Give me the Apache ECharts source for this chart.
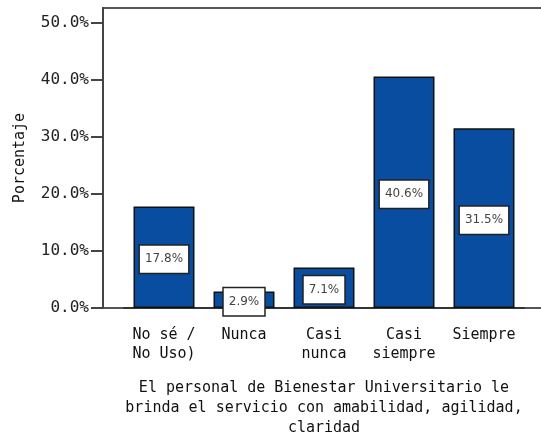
<!DOCTYPE html>
<html>
<head>
<meta charset="utf-8">
<script src="https://cdn.jsdelivr.net/npm/echarts@6/dist/echarts.min.js"></script>
<style>
  html, body { margin: 0; padding: 0; background: #fff; }
  #chart { width: 541px; height: 437px; }
</style>
</head>
<body>
<div id="chart"></div>
<script>
// datos del gráfico
const categorias = ['No sé /\nNo Uso)', 'Nunca', 'Casi\nnunca', 'Casi\nsiempre', 'Siempre'];
const porcentajes = [17.8, 2.9, 7.1, 40.6, 31.5];
const marcasY = [0, 10, 20, 30, 40, 50];
const tituloX = 'El personal de Bienestar Universitario le\nbrinda el servicio con amabilidad, agilidad,\nclaridad';
const tituloY = 'Porcentaje';

const FONT = '"DejaVu Sans Mono", monospace';
const Y_MAX = 52.6;

const chart = echarts.init(document.getElementById('chart'));

chart.setOption({
    animation: false,
    textStyle: { fontFamily: FONT },
    grid: [
        // marco (eje Y + borde superior)
        { left: 103, right: -4, top: 8, bottom: 129, show: true, borderColor: '#555', borderWidth: 2, outerBoundsMode: 'none' },
        // zona de barras
        { left: 124, right: 17, top: 8, bottom: 129, outerBoundsMode: 'none' }
    ],
    xAxis: [
        { gridIndex: 0, type: 'value', min: 0, max: 1, show: false },
        {
            gridIndex: 1, type: 'category', data: categorias,
            axisLine: { lineStyle: { color: '#333', width: 2 } },
            axisTick: { alignWithLabel: true, length: 10, lineStyle: { color: '#333', width: 2 } },
            axisLabel: { color: '#111', fontSize: 15, lineHeight: 19, margin: 18, interval: 0 },
            name: tituloX, nameLocation: 'middle', nameGap: 70,
            nameTextStyle: { color: '#111', fontSize: 15, lineHeight: 20, verticalAlign: 'top' }
        }
    ],
    yAxis: [
        {
            gridIndex: 0, type: 'value', min: 0, max: Y_MAX,
            axisLine: { show: true, lineStyle: { color: '#444', width: 2 } },
            axisTick: { show: true, length: 12, lineStyle: { color: '#444', width: 2 }, customValues: marcasY },
            axisLabel: {
                color: '#222', fontSize: 16, margin: 14, customValues: marcasY,
                formatter: v => v.toFixed(1) + '%'
            },
            splitLine: { show: false },
            name: tituloY, nameLocation: 'middle', nameGap: 75, nameRotate: 90,
            nameTextStyle: { color: '#111', fontSize: 15 }
        },
        { gridIndex: 1, type: 'value', min: 0, max: Y_MAX, show: false }
    ],
    series: [{
        type: 'bar',
        xAxisIndex: 1, yAxisIndex: 1,
        data: porcentajes,
        barWidth: 61,
        itemStyle: { color: '#084d9f', borderColor: '#111', borderWidth: 1.5 },
        label: {
            show: true, position: 'inside', offset: [0, 2],
            formatter: p => p.value.toFixed(1) + '%',
            color: '#444', fontSize: 12, fontFamily: '"DejaVu Sans", sans-serif',
            backgroundColor: '#fff', borderColor: '#222', borderWidth: 1.5,
            padding: [8, 5, 7, 5]
        }
    }]
});
</script>
</body>
</html>
